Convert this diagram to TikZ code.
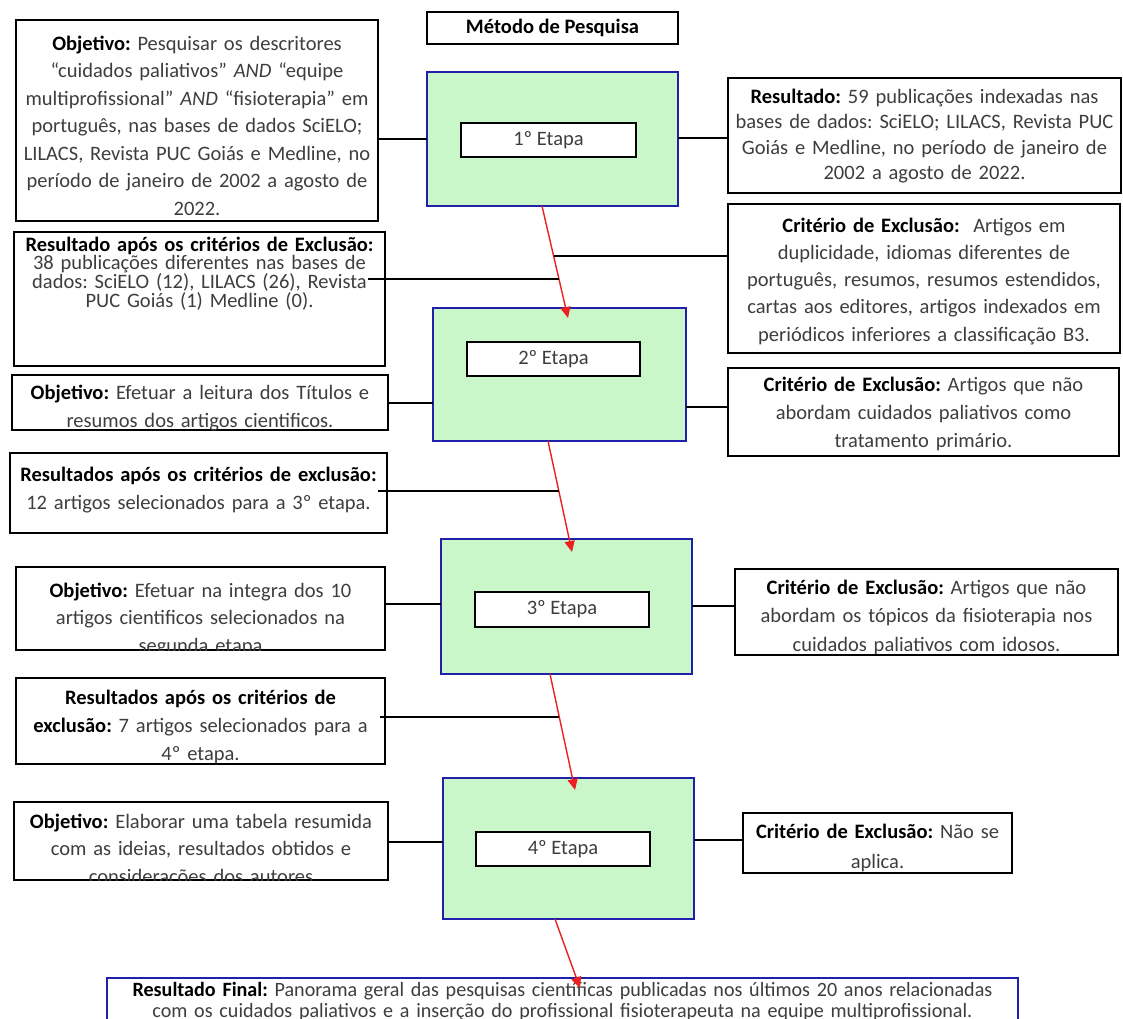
\documentclass[tikz,border=0pt]{standalone}
\usepackage{fontspec}
\setmainfont{Carlito}
\newfontfamily\finalfont[FakeStretch=0.99]{Carlito}
\usetikzlibrary{calc,arrows.meta}
\definecolor{stagegreen}{RGB}{202,247,202}
\definecolor{stageblue}{RGB}{32,32,170}
\definecolor{txtgray}{RGB}{62,62,62}
\definecolor{arrowred}{RGB}{236,32,32}
\newcommand{\hb}[1]{\textbf{\color{black}#1}}
\frenchspacing
\tikzset{
  box/.style={draw=black, line width=1.6pt, anchor=north west, inner sep=0pt, outer sep=0pt},
  stagebox/.style={draw=stageblue, fill=stagegreen, line width=1.6pt, anchor=north west, inner sep=0pt, outer sep=0pt},
  innerbox/.style={draw=black, fill=white, line width=1.6pt, anchor=north west, inner sep=0pt, outer sep=0pt, text=txtgray, font=\fontsize{20.5}{24}\selectfont},
  finalbox/.style={draw=stageblue, fill=white, line width=1.6pt, anchor=north west, inner sep=0pt, outer sep=0pt},
  txt/.style={anchor=base, inner sep=0pt, align=center, text=txtgray, font=\fontsize{20.5}{#1}\selectfont\frenchspacing},
  link/.style={draw=black, line width=1.4pt},
  flow/.style={draw=arrowred, line width=1.4pt, -{Triangle[length=11pt,width=10pt]}},
}
\begin{document}
\begin{tikzpicture}[x=1pt,y=-1pt]
\useasboundingbox (0,0) rectangle (1123,1018);
\clip (0,0) rectangle (1123,1018);
\fill[white] (0,0) rectangle (1123,1018);

% ---------- title ----------
\node[box, minimum width=251pt, minimum height=32pt, font=\fontsize{20.5}{24}\selectfont\bfseries] (title) at (427,12) {Método de Pesquisa};

% ---------- stages ----------
\node[stagebox, minimum width=251pt, minimum height=134pt] (st1) at (427,72) {};
\node[innerbox, minimum width=175pt, minimum height=34pt] (i1) at (461,123) {1º Etapa};
\node[stagebox, minimum width=253pt, minimum height=133pt] (st2) at (433,308) {};
\node[innerbox, minimum width=173pt, minimum height=34pt] (i2) at (467,342) {2º Etapa};
\node[stagebox, minimum width=251pt, minimum height=135pt] (st3) at (441,539) {};
\node[innerbox, minimum width=174pt, minimum height=35pt] (i3) at (475,592) {3º Etapa};
\node[stagebox, minimum width=251pt, minimum height=141pt] (st4) at (443,778) {};
\node[innerbox, minimum width=174pt, minimum height=34pt] (i4) at (476,832) {4º Etapa};

% ---------- side boxes ----------
\node[box, minimum width=362pt, minimum height=201pt] (L1) at (16,20) {};
\node[txt=27.5pt, text width=360pt] (L1t) at (197,50) {\hb{Objetivo:} Pesquisar os descritores\\“cuidados paliativos” \textit{AND} “equipe\\multiprofissional” \textit{AND} “fisioterapia” em\\português, nas bases de dados SciELO;\\LILACS, Revista PUC Goiás e Medline, no\\período de janeiro de 2002 a agosto de\\2022.};

\node[box, minimum width=393pt, minimum height=115pt] (R1) at (728,78) {};
\node[txt=25.5pt, text width=390pt] (R1t) at (924.5,103) {\hb{Resultado:} 59 publicações indexadas nas\\bases de dados: SciELO; LILACS, Revista PUC\\Goiás e Medline, no período de janeiro de\\2002 a agosto de 2022.};

\node[box, minimum width=371pt, minimum height=134pt] (L2) at (14,232) {};
\node[txt=17pt, text width=368pt] (L2t) at (199.5,251) {\hb{Resultado após os critérios de Exclusão:}\\38 publicações diferentes nas bases de\\dados: SciELO (12), LILACS (26), Revista\\PUC Goiás (1) Medline (0).};

\node[box, minimum width=392pt, minimum height=149pt] (R2) at (728,204) {};
\node[txt=27.3pt, text width=390pt] (R2t) at (924,232) {\hb{Critério de Exclusão:}\ \ Artigos em\\duplicidade, idiomas diferentes de\\português, resumos, resumos estendidos,\\cartas aos editores, artigos indexados em\\periódicos inferiores a classificação B3.};

\node[box, minimum width=376pt, minimum height=55pt] (L3) at (12,375) {};
\begin{scope}
  \clip (L3.south west) rectangle (L3.north east);
  \node[txt=28pt, text width=372pt] (L3t) at (200,399) {\hb{Objetivo:} Efetuar a leitura dos Títulos e\\resumos dos artigos cientificos.};
\end{scope}

\node[box, minimum width=391pt, minimum height=88pt] (R3) at (728,368) {};
\node[txt=28pt, text width=388pt] (R3t) at (923.5,391) {\hb{Critério de Exclusão:} Artigos que não\\abordam cuidados paliativos como\\tratamento primário.};

\node[box, minimum width=377pt, minimum height=80pt] (L4) at (10,453) {};
\node[txt=28pt, text width=374pt] (L4t) at (198.5,481) {\hb{Resultados após os critérios de exclusão:}\\12 artigos selecionados para a 3º etapa.};

\node[box, minimum width=369pt, minimum height=83pt] (L5) at (16,567) {};
\begin{scope}
  \clip (L5.south west) rectangle (L5.north east);
  \node[txt=27.5pt, text width=366pt] (L5t) at (200.5,597) {\hb{Objetivo:} Efetuar na integra dos 10\\artigos cientificos selecionados na\\segunda etapa};
\end{scope}

\node[box, minimum width=383pt, minimum height=86pt] (R5) at (735,569) {};
\node[txt=28.5pt, text width=380pt] (R5t) at (926.5,594) {\hb{Critério de Exclusão:} Artigos que não\\abordam os tópicos da fisioterapia nos\\cuidados paliativos com idosos.};

\node[box, minimum width=369pt, minimum height=86pt] (L6) at (16,678) {};
\node[txt=28pt, text width=366pt] (L6t) at (200.5,704) {\hb{Resultados após os critérios de}\\\hb{exclusão:} 7 artigos selecionados para a\\4º etapa.};

\node[box, minimum width=374pt, minimum height=78pt] (L7) at (14,802) {};
\begin{scope}
  \clip (L7.south west) rectangle (L7.north east);
  \node[txt=27.5pt, text width=370pt] (L7t) at (201,828) {\hb{Objetivo:} Elaborar uma tabela resumida\\com as ideias, resultados obtidos e\\considerações dos autores};
\end{scope}

\node[box, minimum width=269pt, minimum height=60pt] (R7) at (743,813) {};
\node[txt=30pt, text width=266pt] (R7t) at (877.5,838) {\hb{Critério de Exclusão:} Não se\\aplica.};

% ---------- final ----------
\node[finalbox, minimum width=911pt, minimum height=70pt] (fin) at (107,978) {};
\node[txt=21pt, text width=905pt, font=\finalfont\fontsize{20.3}{21}\selectfont\frenchspacing] (fint) at (562.5,996) {\hb{Resultado Final:} Panorama geral das pesquisas científicas publicadas nos últimos 20 anos relacionadas\\com os cuidados paliativos e a inserção do profissional fisioterapeuta na equipe multiprofissional.};

% ---------- flow arrows ----------
\coordinate (a1s) at ($(st1.south west)+(115,0)$);
\coordinate (a1e) at ($(st2.north west)+(135,10)$);
\coordinate (a2s) at ($(st2.south west)+(115,0)$);
\coordinate (a2e) at ($(st3.north west)+(131,13)$);
\coordinate (a3s) at ($(st3.south west)+(109,0)$);
\coordinate (a3e) at ($(st4.north west)+(132,12)$);
\coordinate (a4s) at ($(st4.south west)+(112,0)$);
\coordinate (a4e) at ($(fin.north west)+(473,10)$);
\draw[flow] (a1s) -- (a1e);
\draw[flow] (a2s) -- (a2e);
\draw[flow] (a3s) -- (a3e);
\draw[flow] (a4s) -- (a4e);

% junctions on the arrows
\coordinate (j1) at ($(a1s)!0.446!(a1e)$);
\coordinate (j2) at ($(a1s)!0.652!(a1e)$);
\coordinate (j3) at ($(a2s)!0.45!(a2e)$);
\coordinate (j4) at ($(a3s)!0.37!(a3e)$);
\coordinate (L2x) at ($(L2.east)+(-17,0)$);
\coordinate (L4x) at ($(L4.east)+(-9,0)$);
\coordinate (L6x) at ($(L6.east)+(-5,0)$);

% ---------- side connectors ----------
\draw[link] (L1.east |- 0,139) -- (st1.west |- 0,139);
\draw[link] (st1.east |- 0,138) -- (R1.west |- 0,138);
\draw[link] (R2.west |- j1) -- (j1);
\draw[link] (L2x |- j2) -- (j2);
\draw[link] (L3.east |- 0,403) -- (st2.west |- 0,403);
\draw[link] (st2.east |- 0,407) -- (R3.west |- 0,407);
\draw[link] (L4x |- j3) -- (j3);
\draw[link] (L5.east |- 0,604) -- (st3.west |- 0,604);
\draw[link] (st3.east |- 0,606) -- (R5.west |- 0,606);
\draw[link] (L6x |- j4) -- (j4);
\draw[link] (L7.east |- 0,842) -- (st4.west |- 0,842);
\draw[link] (st4.east |- 0,840) -- (R7.west |- 0,840);
\end{tikzpicture}
\end{document}
